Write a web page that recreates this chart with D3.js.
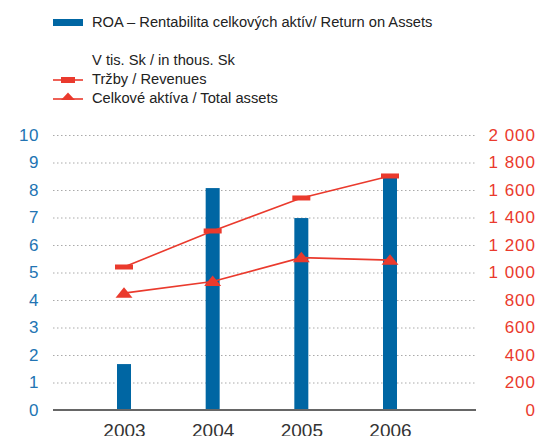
<!DOCTYPE html>
<meta charset="utf-8">
<script src="https://d3js.org/d3.v7.min.js"></script>
<style>
  body { margin: 0; background: #fff; }
  text { font-family: "Liberation Sans", Arial, sans-serif; }
</style>
<div id="my_dataviz"></div>
<script>

// data
var years = ["2003", "2004", "2005", "2006"];
var roa = [1.67, 8.07, 6.98, 8.5];            // left axis, %
var revenues = [1040, 1302, 1542, 1702];      // right axis, thous. Sk
var assets = [850, 935, 1108, 1090];          // right axis, thous. Sk
var leftTicks = [0, 1, 2, 3, 4, 5, 6, 7, 8, 9, 10];
var rightTicks = [0, 200, 400, 600, 800, 1000, 1200, 1400, 1600, 1800, 2000];

var blue = "#0066a3", red = "#ea3a2d";

var svg = d3.select("#my_dataviz")
  .append("svg")
    .attr("width", 535)
    .attr("height", 436);

var gridLeft = 53, gridRight = 476, plotTop = 135, plotBottom = 410;

var x = d3.scalePoint().domain(years).range([124, 390]);
var yL = d3.scaleLinear().domain([0, 10]).range([plotBottom, plotTop]);
var yR = d3.scaleLinear().domain([0, 2000]).range([plotBottom, plotTop]);

// dotted grid lines
svg.append("g")
  .attr("transform", "translate(" + gridLeft + ",0)")
  .call(d3.axisLeft(yL).tickValues(leftTicks.slice(1)).tickSize(-(gridRight - gridLeft)).tickFormat(""))
  .call(function(g) { g.select(".domain").remove(); })
  .selectAll("line")
    .attr("stroke", "#aaa")
    .attr("stroke-dasharray", "1.5,2.5");

// left axis labels
svg.append("g")
  .attr("transform", "translate(39,0)")
  .call(d3.axisLeft(yL).tickValues(leftTicks).tickSize(0).tickPadding(0))
  .call(function(g) { g.select(".domain").remove(); })
  .selectAll("text")
    .attr("fill", "#2274b3")
    .attr("font-size", 17)
    .attr("letter-spacing", "0.6px")
    .attr("font-family", "Liberation Sans, Arial, sans-serif");

// right axis labels
svg.append("g")
  .attr("transform", "translate(536,0)")
  .call(d3.axisLeft(yR).tickValues(rightTicks).tickSize(0).tickPadding(0)
    .tickFormat(function(d) { return d3.format(",")(d).replace(",", " "); }))
  .call(function(g) { g.select(".domain").remove(); })
  .selectAll("text")
    .attr("fill", red)
    .attr("font-size", 17)
    .attr("letter-spacing", "1px")
    .attr("font-family", "Liberation Sans, Arial, sans-serif");

// bars
svg.append("g")
  .selectAll("rect")
  .data(roa)
  .enter()
  .append("rect")
    .attr("x", function(d, i) { return x(years[i]) - 7; })
    .attr("y", function(d) { return yL(d); })
    .attr("width", 14)
    .attr("height", function(d) { return plotBottom - yL(d); })
    .attr("fill", blue);

// baseline
svg.append("line")
  .attr("x1", gridLeft).attr("x2", gridRight)
  .attr("y1", plotBottom).attr("y2", plotBottom)
  .attr("stroke", "#666")
  .attr("stroke-width", 2);

// x labels
svg.append("g")
  .attr("transform", "translate(0," + plotBottom + ")")
  .call(d3.axisBottom(x).tickSize(0).tickPadding(0))
  .call(function(g) { g.select(".domain").remove(); })
  .selectAll("text")
    .attr("dy", 0)
    .attr("y", 27)
    .attr("fill", "#333")
    .attr("font-size", 19)
    .attr("font-family", "Liberation Sans, Arial, sans-serif");

var line = d3.line()
  .x(function(d, i) { return x(years[i]); })
  .y(function(d) { return yR(d); });

// revenues line + rect markers
svg.append("path")
  .datum(revenues)
  .attr("fill", "none")
  .attr("stroke", red)
  .attr("stroke-width", 1.6)
  .attr("d", line);

svg.append("g")
  .selectAll("rect")
  .data(revenues)
  .enter()
  .append("rect")
    .attr("x", function(d, i) { return x(years[i]) - 9; })
    .attr("y", function(d) { return yR(d) - 2.5; })
    .attr("width", 18)
    .attr("height", 5)
    .attr("fill", red);

// total assets line + triangle markers
svg.append("path")
  .datum(assets)
  .attr("fill", "none")
  .attr("stroke", red)
  .attr("stroke-width", 1.6)
  .attr("d", line);

var tri = "M0,-6L8.5,4.5L-8.5,4.5Z";
svg.append("g")
  .selectAll("path")
  .data(assets)
  .enter()
  .append("path")
    .attr("transform", function(d, i) { return "translate(" + x(years[i]) + "," + yR(d) + ")"; })
    .attr("d", tri)
    .attr("fill", red);

// legend
var legend = svg.append("g").attr("font-size", 14.7).attr("fill", "#222");

legend.append("rect")
  .attr("x", 53).attr("y", 19).attr("width", 30).attr("height", 7)
  .attr("fill", blue);
legend.append("text").attr("x", 92).attr("y", 27)
  .text("ROA – Rentabilita celkových aktív/ Return on Assets");

legend.append("text").attr("x", 92).attr("y", 65)
  .text("V tis. Sk / in thous. Sk");

legend.append("line")
  .attr("x1", 53).attr("x2", 83).attr("y1", 80).attr("y2", 80)
  .attr("stroke", red).attr("stroke-width", 1.6);
legend.append("rect")
  .attr("x", 61).attr("y", 77).attr("width", 14).attr("height", 6)
  .attr("fill", red);
legend.append("text").attr("x", 92).attr("y", 84)
  .text("Tržby / Revenues");

legend.append("line")
  .attr("x1", 53).attr("x2", 83).attr("y1", 99).attr("y2", 99)
  .attr("stroke", red).attr("stroke-width", 1.6);
legend.append("path")
  .attr("transform", "translate(68,97)")
  .attr("d", "M0,-4.5L7,3L-7,3Z")
  .attr("fill", red);
legend.append("text").attr("x", 92).attr("y", 103)
  .text("Celkové aktíva / Total assets");

</script>
